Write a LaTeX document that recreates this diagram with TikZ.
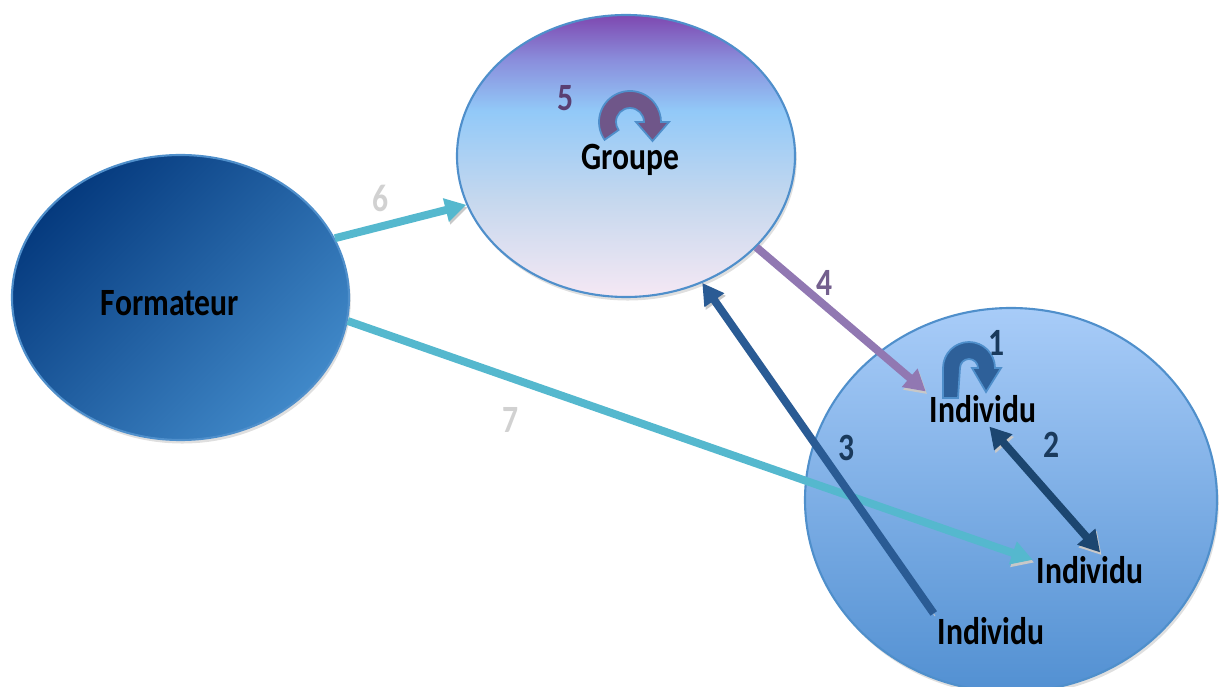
\documentclass[tikz,border=0pt]{standalone}
\usepackage{fontspec}
\setsansfont{Carlito}
\usepackage{tikz}
\usetikzlibrary{arrows.meta,shapes.geometric,shadows}
\definecolor{gpNavy}{HTML}{053A7E}
\definecolor{gpSteel}{HTML}{4088C8}
\definecolor{gpRim}{HTML}{4F8FCB}
\definecolor{gpPurple}{HTML}{7E48B0}
\definecolor{gpLav}{HTML}{8A8EDC}
\definecolor{gpSky}{HTML}{92C9F8}
\definecolor{gpPale}{HTML}{C6D8EE}
\definecolor{gpPink}{HTML}{F5E8F4}
\definecolor{gpIndTop}{HTML}{A8CCF8}
\definecolor{gpIndBot}{HTML}{5290D2}
\definecolor{gpCyan}{HTML}{55B8CE}
\definecolor{gpLilac}{HTML}{9178B2}
\definecolor{gpBlue}{HTML}{2A5B94}
\definecolor{gpInk}{HTML}{1C4670}
\definecolor{gpPlum}{HTML}{5A3F72}
\definecolor{gpPlumL}{HTML}{6F5689}
\definecolor{gpBlueL}{HTML}{2E6099}
\definecolor{gpDark}{HTML}{1A3A5C}
\definecolor{gpShadow}{HTML}{C8C8C8}
\pgfdeclareverticalshading{gp-grp}{100bp}{color(0bp)=(gpPink); color(25bp)=(gpPink);
  color(42bp)=(gpPale); color(58bp)=(gpSky); color(67bp)=(gpLav);
  color(75bp)=(gpPurple); color(100bp)=(gpPurple)}
\newcommand{\gpTall}[1]{\scalebox{1}[1.22]{#1}}
\tikzset{
  gp-bubble/.style={
    ellipse, draw=gpRim, line width=1.2pt, inner sep=0pt,
    drop shadow={shadow xshift=1pt, shadow yshift=-2pt, opacity=0.25}
  },
  gp-label/.style={font=\fontsize{18}{20}\selectfont\sffamily\bfseries,
    inner sep=2pt},
  gp-num/.style={font=\fontsize{18}{20}\selectfont\sffamily\bfseries,
    inner sep=1pt, text=gpDark},
  gp-flow/.style={-{Triangle[length=12pt,width=13pt]}, line width=4.5pt,
    preaction={draw=gpShadow, transform canvas={xshift=0.8pt,yshift=-1.5pt}}},
  gp-flow-2/.style={gp-flow, {Triangle[length=12pt,width=13pt]}-{Triangle[length=12pt,width=13pt]}},
  gp-loop/.style={draw=gpRim, line width=1pt}
}
\begin{document}
\begin{tikzpicture}[x=0.2mm,y=0.2mm]
\useasboundingbox (0,0) rectangle (1219,686);
% bulles
\node[gp-bubble, top color=gpNavy, bottom color=gpSteel, shading angle=45,
  minimum width=6.74cm, minimum height=5.7cm] (form) at (180.5,388.5) {};
\node[gp-bubble, shading=gp-grp, minimum width=6.76cm, minimum height=5.64cm]
  (grp) at (626,530) {};
\node[gp-bubble, top color=gpIndTop, bottom color=gpIndBot,
  minimum width=8.24cm, minimum height=7.68cm] (ind) at (1011,186) {};

\node[gp-label] (formT) at (170,383) {\gpTall{Formateur}};
\node[gp-label] (grpT) at (630,526) {\gpTall{Groupe}};
\node[gp-label] (indA) at (983,277) {\gpTall{Individu}};
\node[gp-label] (indB) at (1090,116) {\gpTall{Individu}};
\node[gp-label] (indC) at (991,55) {\gpTall{Individu}};

% boucles
\filldraw[gp-loop, fill=gpPlumL] (630,564) ++(215:31)
  arc[start angle=215, end angle=0, radius=31] -- ++(8,0) -- (652.5,545)
  -- (636,564) -- (644,564) arc[start angle=0, end angle=215, radius=14] -- cycle;
\filldraw[gp-loop, fill=gpBlueL] (943,288) -- (943,318)
  arc[start angle=180, end angle=0, radius=26] -- ++(6,0) -- (986,294)
  -- (972,318) -- (978,318) arc[start angle=0, end angle=180, radius=9]
  -- (958,288) -- cycle;

% liens
\draw[gp-flow, draw=gpCyan] (form.21) -- (grp.197);
\draw[gp-flow, draw=gpCyan] (form.-8) -- (indB.170);
\draw[gp-flow, draw=gpLilac] (grp.-35) -- (indA.north west);
\draw[gp-flow, draw=gpBlue] (indC.north west) -- (grp.-59);
\draw[gp-flow-2, draw=gpInk] (indA.-70) -- (indB.60);

% numeros
\node[gp-num, text=gpPlum] (n5) at (566,588) {\gpTall{5}};
\node[gp-num] (n1) at (997,343) {\gpTall{1}};
\node[gp-num] (n2) at (1052,241) {\gpTall{2}};
\node[gp-num] (n3) at (847,238) {\gpTall{3}};
\node[gp-num, text=gpLilac!80!black] (n4) at (825,403) {\gpTall{4}};
\node[gp-num, text=black!18] (n6) at (381,488) {\gpTall{6}};
\node[gp-num, text=black!18] (n7) at (511,266) {\gpTall{7}};
\end{tikzpicture}
\end{document}
